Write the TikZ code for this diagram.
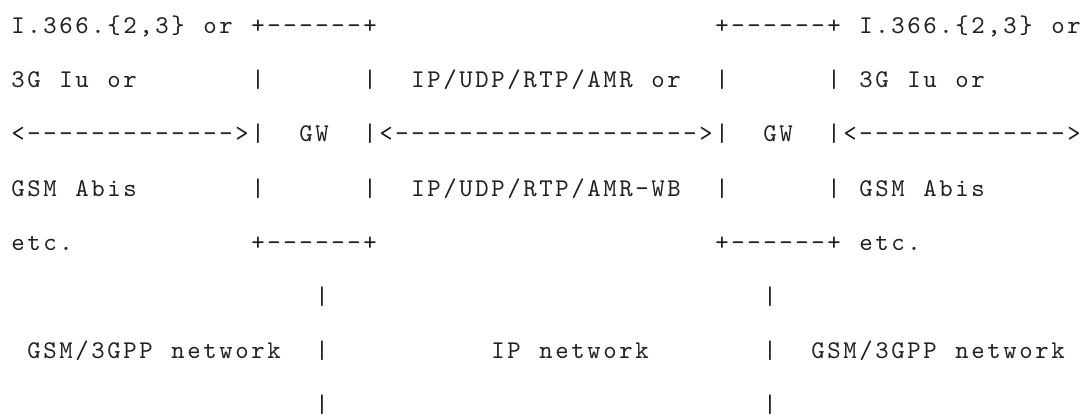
\documentclass[tikz,border=0pt]{standalone}
\usepackage{fontspec}
\newfontfamily\asciimono{lmmono10-regular.otf}

% Set a string on a fixed 16pt character grid (spaces written as ~)
\makeatletter
\def\gt@stop{\gt@stop}
\newcommand\gridtext[1]{\gt@loop#1\gt@stop}
\def\gt@loop#1{\ifx#1\gt@stop\else\makebox[16pt]{#1}\expandafter\gt@loop\fi}
\makeatother

\tikzset{
  cell/.style={anchor=base west, inner sep=0pt, outer sep=0pt,
    font=\asciimono\fontsize{25.5}{25.5}\selectfont, text=black!88},
}

\begin{document}
\begin{tikzpicture}
\useasboundingbox (0,0) rectangle (1084pt,416pt);
% grid: one unit = one character column / one text row
\begin{scope}[shift={(10pt,382.5pt)}, x=16pt, y=-54.2pt]
  % row 0
  \node[cell] (l0a) at (0,0) {\gridtext{I.366.\{2,3\}~or}};
  \node[cell] (gwlt) at (15,0) {\gridtext{+------+}};
  \node[cell] (gwrt) at (44,0) {\gridtext{+------+}};
  \node[cell] (r0a) at (53,0) {\gridtext{I.366.\{2,3\}~or}};
  % row 1
  \node[cell] (l1a) at (0,1) {\gridtext{3G~Iu~or}};
  \node[cell] (gwl1a) at (15,1) {\gridtext{|}};
  \node[cell] (gwl1b) at (22,1) {\gridtext{|}};
  \node[cell] (m1) at (25,1) {\gridtext{IP/UDP/RTP/AMR~or}};
  \node[cell] (gwr1a) at (44,1) {\gridtext{|}};
  \node[cell] (gwr1b) at (51,1) {\gridtext{|}};
  \node[cell] (r1a) at (53,1) {\gridtext{3G~Iu~or}};
  % row 2
  \node[cell] (arrl) at (0,2) {\gridtext{<------------->}};
  \node[cell] (gwl2a) at (15,2) {\gridtext{|}};
  \node[cell] (gwl) at (18,2) {\gridtext{GW}};
  \node[cell] (gwl2b) at (22,2) {\gridtext{|}};
  \node[cell] (arrm) at (23,2) {\gridtext{<------------------->}};
  \node[cell] (gwr2a) at (44,2) {\gridtext{|}};
  \node[cell] (gwr) at (47,2) {\gridtext{GW}};
  \node[cell] (gwr2b) at (51,2) {\gridtext{|}};
  \node[cell] (arrr) at (52,2) {\gridtext{<------------->}};
  % row 3
  \node[cell] (l3a) at (0,3) {\gridtext{GSM~Abis}};
  \node[cell] (gwl3a) at (15,3) {\gridtext{|}};
  \node[cell] (gwl3b) at (22,3) {\gridtext{|}};
  \node[cell] (m3) at (25,3) {\gridtext{IP/UDP/RTP/AMR-WB}};
  \node[cell] (gwr3a) at (44,3) {\gridtext{|}};
  \node[cell] (gwr3b) at (51,3) {\gridtext{|}};
  \node[cell] (r3a) at (53,3) {\gridtext{GSM~Abis}};
  % row 4
  \node[cell] (l4a) at (0,4) {\gridtext{etc.}};
  \node[cell] (gwlb) at (15,4) {\gridtext{+------+}};
  \node[cell] (gwrb) at (44,4) {\gridtext{+------+}};
  \node[cell] (r4a) at (53,4) {\gridtext{etc.}};
  % rows 5-7: network boundaries
  \node[cell] (bl5) at (19,5) {\gridtext{|}};
  \node[cell] (br5) at (47,5) {\gridtext{|}};
  \node[cell] (netl) at (1,6) {\gridtext{GSM/3GPP~network}};
  \node[cell] (bl6) at (19,6) {\gridtext{|}};
  \node[cell] (netm) at (30,6) {\gridtext{IP~network}};
  \node[cell] (br6) at (47,6) {\gridtext{|}};
  \node[cell] (netr) at (50,6) {\gridtext{GSM/3GPP~network}};
  \node[cell] (bl7) at (19,7) {\gridtext{|}};
  \node[cell] (br7) at (47,7) {\gridtext{|}};
\end{scope}
\end{tikzpicture}
\end{document}
